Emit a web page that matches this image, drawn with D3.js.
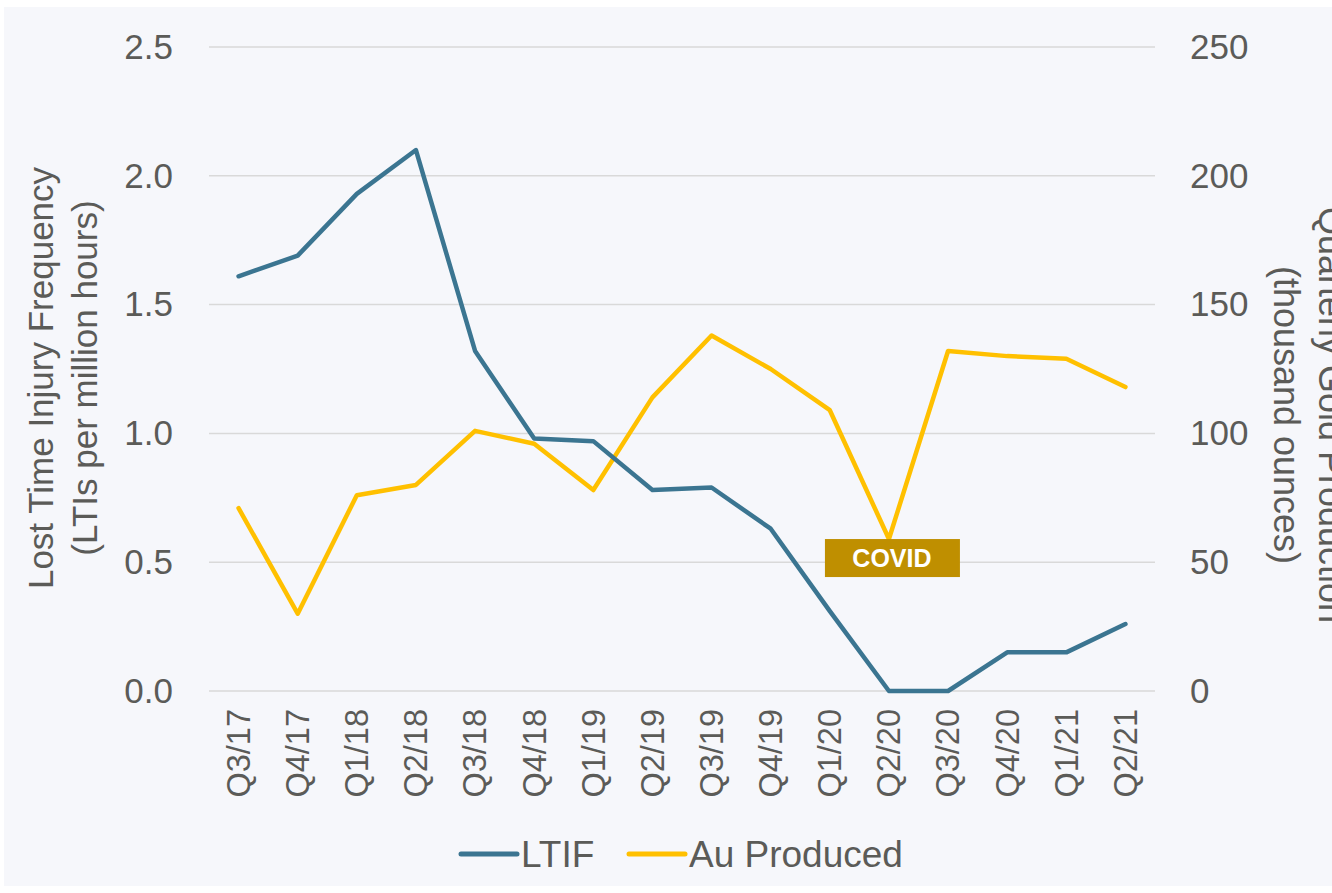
<!DOCTYPE html>
<html>
<head>
<meta charset="utf-8">
<script src="https://cdn.jsdelivr.net/npm/d3@7"></script>
<style>
  html, body { margin: 0; padding: 0; background: #ffffff; }
  svg { display: block; font-family: "Liberation Sans", Arial, sans-serif; }
</style>
</head>
<body>
<div id="chart"></div>
<script>
const quarters = ["Q3/17", "Q4/17", "Q1/18", "Q2/18", "Q3/18", "Q4/18", "Q1/19", "Q2/19",
                  "Q3/19", "Q4/19", "Q1/20", "Q2/20", "Q3/20", "Q4/20", "Q1/21", "Q2/21"];
const ltif = [1.61, 1.69, 1.93, 2.10, 1.32, 0.98, 0.97, 0.78, 0.79, 0.63, 0.31, 0.0, 0.0, 0.15, 0.15, 0.26];
const auProduced = [71, 30, 76, 80, 101, 96, 78, 114, 138, 125, 109, 59, 132, 130, 129, 118];
const leftTicks = [0, 0.5, 1.0, 1.5, 2.0, 2.5];
const rightTicks = [0, 50, 100, 150, 200, 250];
const covidLabel = { quarter: "Q2/20", ltif: 0.52, text: "COVID" };

const width = 1332;
const height = 893;
const margin = { top: 47, right: 177, bottom: 202, left: 209 };
const textColor = "#5b5b58";

const svg = d3.select("#chart")
    .append("svg")
    .attr("width", width)
    .attr("height", height)
    .attr("viewBox", [0, 0, width, height]);

svg.append("rect")
    .attr("x", 4).attr("y", 7)
    .attr("width", width - 4).attr("height", height - 14)
    .attr("fill", "#f6f7fb");

const x = d3.scaleBand()
    .domain(quarters)
    .range([margin.left, width - margin.right]);

const yL = d3.scaleLinear()
    .domain([0, 2.5])
    .range([height - margin.bottom, margin.top]);

const yR = d3.scaleLinear()
    .domain([0, 250])
    .range([height - margin.bottom, margin.top]);

// gridlines
svg.append("g")
    .selectAll("line")
    .data(leftTicks)
    .join("line")
    .attr("x1", margin.left)
    .attr("x2", width - margin.right)
    .attr("y1", d => yL(d))
    .attr("y2", d => yL(d))
    .attr("stroke", "#d9d9d9")
    .attr("stroke-width", 1.5);

// left axis
const leftAxis = svg.append("g")
    .attr("transform", `translate(${margin.left - 33},0)`)
    .call(d3.axisLeft(yL).tickValues(leftTicks).tickFormat(d3.format(".1f")).tickSize(0));
leftAxis.select(".domain").remove();
leftAxis.selectAll("text")
    .attr("fill", textColor)
    .attr("font-size", "35px")
    .attr("font-family", "Liberation Sans, Arial, sans-serif");

// right axis
const rightAxis = svg.append("g")
    .attr("transform", `translate(${width - margin.right + 32},0)`)
    .call(d3.axisRight(yR).tickValues(rightTicks).tickFormat(d3.format("d")).tickSize(0));
rightAxis.select(".domain").remove();
rightAxis.selectAll("text")
    .attr("fill", textColor)
    .attr("font-size", "35px")
    .attr("font-family", "Liberation Sans, Arial, sans-serif");

// x axis
const xAxis = svg.append("g")
    .attr("transform", `translate(0,${height - margin.bottom + 18})`)
    .call(d3.axisBottom(x).tickSize(0));
xAxis.select(".domain").remove();
xAxis.selectAll("text")
    .attr("fill", textColor)
    .attr("font-size", "32.5px")
    .attr("font-family", "Liberation Sans, Arial, sans-serif")
    .attr("text-anchor", "end")
    .attr("transform", "rotate(-90)")
    .attr("x", 0)
    .attr("y", 0)
    .attr("dy", "0.35em");

// axis titles
const leftTitle = svg.append("text")
    .attr("transform", `translate(53,378) rotate(-90)`)
    .attr("text-anchor", "middle")
    .attr("fill", textColor)
    .attr("font-size", "35px");
leftTitle.append("tspan").attr("x", 0).attr("dy", 0).text("Lost Time Injury Frequency");
leftTitle.append("tspan").attr("x", 0).attr("dy", "1.27em").text("(LTIs per million hours)");

const rightTitle = svg.append("text")
    .attr("transform", `translate(1319,415) rotate(90)`)
    .attr("text-anchor", "middle")
    .attr("fill", textColor)
    .attr("font-size", "36px");
rightTitle.append("tspan").attr("x", 0).attr("dy", 0).text("Quarterly Gold Production");
rightTitle.append("tspan").attr("x", 0).attr("dy", "1.25em").text("(thousand ounces)");

// lines
const cx = d => x(d) + x.bandwidth() / 2;

svg.append("path")
    .datum(quarters.map((q, i) => [q, auProduced[i]]))
    .attr("fill", "none")
    .attr("stroke", "#ffc000")
    .attr("stroke-width", 4.5)
    .attr("stroke-linejoin", "round")
    .attr("stroke-linecap", "round")
    .attr("d", d3.line().x(d => cx(d[0])).y(d => yR(d[1])));

svg.append("path")
    .datum(quarters.map((q, i) => [q, ltif[i]]))
    .attr("fill", "none")
    .attr("stroke", "#3b7591")
    .attr("stroke-width", 4.5)
    .attr("stroke-linejoin", "round")
    .attr("stroke-linecap", "round")
    .attr("d", d3.line().x(d => cx(d[0])).y(d => yL(d[1])));

// COVID label
const covid = svg.append("g")
    .attr("transform", `translate(${cx(covidLabel.quarter) + 3},${yL(covidLabel.ltif) + 1})`);
covid.append("rect")
    .attr("x", -67).attr("y", -19)
    .attr("width", 135).attr("height", 38)
    .attr("fill", "#bf8f00");
covid.append("text")
    .attr("text-anchor", "middle")
    .attr("dy", "0.36em")
    .attr("fill", "#ffffff")
    .attr("font-weight", "bold")
    .attr("font-size", "25px")
    .text(covidLabel.text);

// legend
const legendItems = [
    { name: "LTIF", color: "#3b7591", x: 461 },
    { name: "Au Produced", color: "#ffc000", x: 629 }
];
const legend = svg.append("g").attr("transform", "translate(0,854)");
const li = legend.selectAll("g")
    .data(legendItems)
    .join("g")
    .attr("transform", d => `translate(${d.x},0)`);
li.append("line")
    .attr("x1", 0).attr("x2", 56)
    .attr("y1", 0).attr("y2", 0)
    .attr("stroke", d => d.color)
    .attr("stroke-width", 5)
    .attr("stroke-linecap", "round");
li.append("text")
    .attr("x", 60)
    .attr("dy", "0.35em")
    .attr("fill", textColor)
    .attr("font-size", "37px")
    .text(d => d.name);
</script>
</body>
</html>
